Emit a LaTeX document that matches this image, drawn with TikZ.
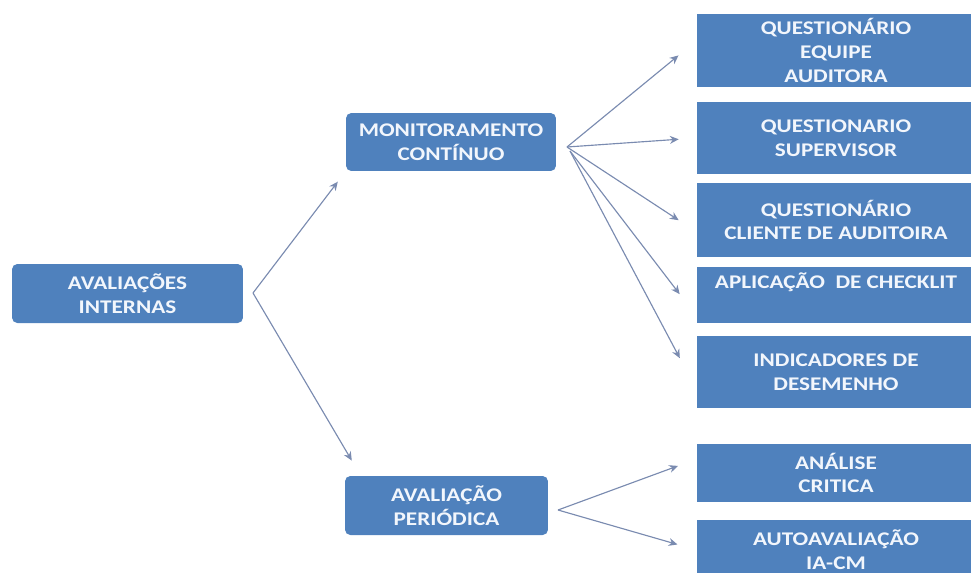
\documentclass[tikz,border=0pt]{standalone}
\usepackage{fontspec}
\newfontfamily\boxfont{Carlito}[FakeStretch=1.2]
\usetikzlibrary{positioning,calc,arrows.meta}
\definecolor{boxblue}{HTML}{4F81BD}
\definecolor{arrowgray}{HTML}{7A8BB0}
\definecolor{boxtext}{HTML}{F2F6FC}
\tikzset{
    every node/.style={font=\boxfont\bfseries\fontsize{11}{13.5}\selectfont},
    bluebox/.style={fill=boxblue, text=boxtext, rounded corners=3pt, align=center, inner sep=2pt},
    rightbox/.style={fill=boxblue, text=boxtext, align=center, inner sep=2pt, minimum width=5.56cm},
    arrow/.style={-{Stealth[length=5pt,width=4.5pt]}, arrowgray, line width=0.65pt},
}

\begin{document}
\begin{tikzpicture}[x=0.02cm, y=-0.02cm]
  \useasboundingbox (0,0) rectangle (971,572);
  \node[bluebox, minimum width=4.62cm, minimum height=1.18cm] (aval) at (127.5,293.5) {AVALIAÇÕES\\INTERNAS};
  \node[bluebox, minimum width=4.2cm, minimum height=1.16cm] (mon) at (451,142) {MONITORAMENTO\\CONTÍNUO};
  \node[bluebox, minimum width=4.06cm, minimum height=1.18cm] (per) at (446.5,505.5) {AVALIAÇÃO\\PERIÓDICA};
  \node[rightbox, minimum height=1.46cm] (q1) at (836,50.5) {QUESTIONÁRIO\\EQUIPE\\AUDITORA};
  \node[rightbox, minimum height=1.44cm] (q2) at (836,138) {QUESTIONARIO\\SUPERVISOR};
  \node[rightbox, minimum height=1.48cm] (q3) at (836,220) {QUESTIONÁRIO\\CLIENTE DE AUDITOIRA};
  \node[rightbox, anchor=north, text height=9.8pt, text depth=18.1pt] (q4) at (836,267) {APLICAÇÃO\ \ DE CHECKLIT};
  \node[rightbox, minimum height=1.44cm] (q5) at (836,372) {INDICADORES DE\\DESEMENHO};
  \node[rightbox, minimum height=1.16cm] (q6) at (836,473) {ANÁLISE\\CRITICA};
  \node[rightbox, minimum height=1.2cm] (q7) at (836,550) {AUTOAVALIAÇÃO\\IA-CM};
  \coordinate (avout) at (253,293);
  \coordinate (monout) at (567,147);
  \coordinate (monout2) at (570,151);
  \coordinate (perout) at (558,510);
    \draw[arrow, shorten >=0.26cm] (avout) -- (mon.south west);
    \draw[arrow, shorten >=0.35cm] (avout) -- ([xshift=0.32cm]per.north west);
    \draw[arrow, shorten >=0.47cm] (monout) -- ([yshift=0.2cm]q1.west);
    \draw[arrow, shorten >=0.36cm] (monout) -- (q2.west);
    \draw[arrow, shorten >=0.43cm] (monout) -- ([yshift=-0.24cm]q3.west);
    \draw[arrow, shorten >=0.56cm] (monout2) -- ([yshift=-0.42cm]q4.west);
    \draw[arrow, shorten >=0.72cm] (monout2) -- ([yshift=-0.36cm]q5.west);
    \draw[arrow, shorten >=0.4cm] (perout) -- ([yshift=0.28cm]q6.west);
    \draw[arrow, shorten >=0.4cm] (perout) -- (q7.west);
\end{tikzpicture}
\end{document}
